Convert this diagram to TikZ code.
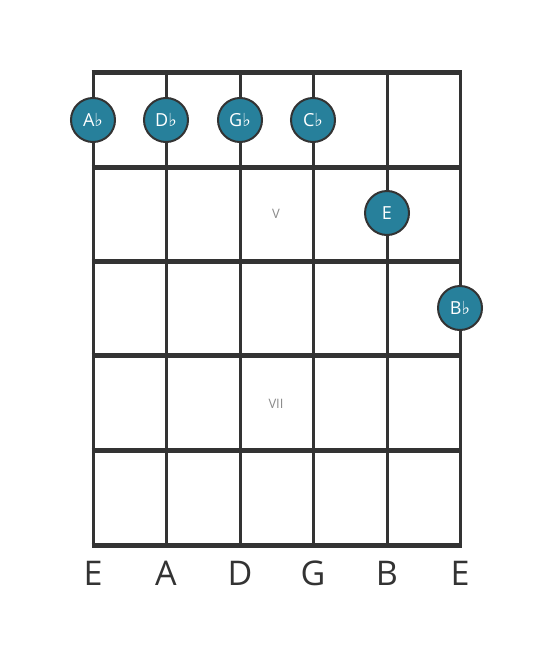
\documentclass[tikz,border=0pt]{standalone}
\usepackage{fontspec}
\setmainfont{Open Sans}
\newfontfamily\flatfont{DejaVu Sans}
\definecolor{linecol}{HTML}{333333}
\definecolor{dotcol}{HTML}{27809B}
\definecolor{fretlbl}{HTML}{8A8A8A}
\tikzset{
  fretline/.style={line width=5pt, draw=linecol},
  stringline/.style={line width=3pt, draw=linecol},
  notedot/.style={circle, minimum size=44pt, inner sep=0pt, fill=dotcol, draw=linecol, line width=2pt, text=white, font=\fontsize{18}{18}\selectfont},
  strlabel/.style={font=\fontsize{34}{34}\selectfont, text=linecol},
  fretlabel/.style={font=\fontsize{13}{13}\selectfont, text=fretlbl}
}
\newcommand{\fl}{{\flatfont\fontsize{18}{18}\selectfont ♭}}
\begin{document}
\begin{tikzpicture}[x=1pt,y=-1pt]
\useasboundingbox (0,0) rectangle (553,656);
% strings
\foreach \x [count=\i] in {93,166,240,313,387,460} {
  \coordinate (st\i) at (\x,72);
  \coordinate (sb\i) at (\x,545);
  \draw[stringline] (st\i) -- (sb\i);
}
% frets
\foreach \y [count=\j] in {72,167,261,355,450,545} {
  \coordinate (fl\j) at (91.5,\y);
  \coordinate (fr\j) at (461.5,\y);
  \draw[fretline] (fl\j) -- (fr\j);
}
% fret labels
\node[fretlabel] (f5) at (276,214) {V};
\node[fretlabel] (f7) at (276,404) {VII};
% notes
\node[notedot] (n1) at (93,120) {A\fl};
\node[notedot] (n2) at (166,120) {D\fl};
\node[notedot] (n3) at (240,120) {G\fl};
\node[notedot] (n4) at (313,120) {C\fl};
\node[notedot] (n5) at (387,213) {E};
\node[notedot] (n6) at (460,308) {B\fl};
% string labels
\node[strlabel] (l1) at (93,573) {E};
\node[strlabel] (l2) at (166,573) {A};
\node[strlabel] (l3) at (240,573) {D};
\node[strlabel] (l4) at (313,573) {G};
\node[strlabel] (l5) at (387,573) {B};
\node[strlabel] (l6) at (460,573) {E};
\end{tikzpicture}
\end{document}
